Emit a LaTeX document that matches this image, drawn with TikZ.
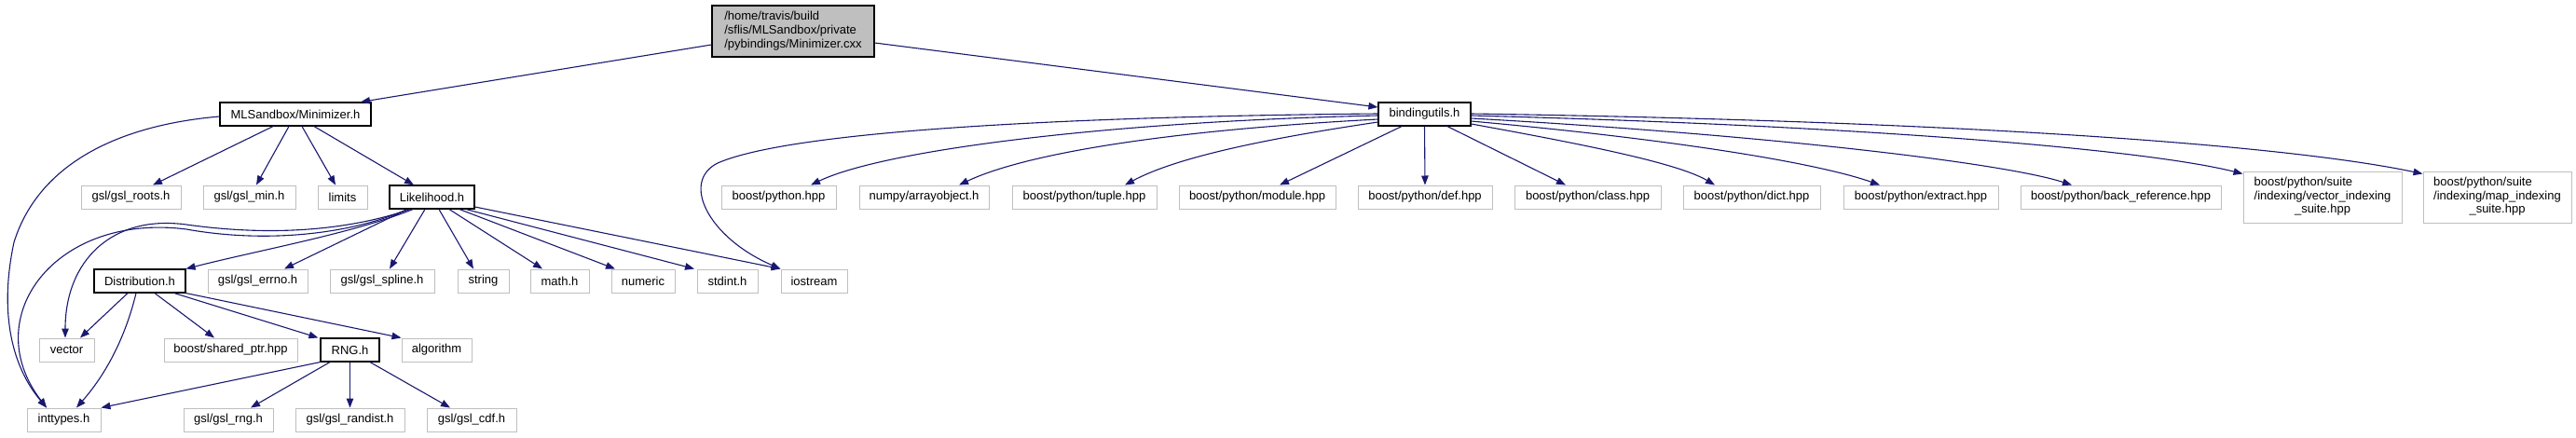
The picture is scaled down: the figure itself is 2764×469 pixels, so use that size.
\documentclass[tikz,border=0pt]{standalone}
\usepackage{fontspec}
\setmainfont{Liberation Sans}
\usetikzlibrary{arrows.meta}
\definecolor{edgeblue}{RGB}{25,25,112}
\definecolor{boxgrey}{RGB}{191,191,191}
\tikzset{
  box/.style={draw=boxgrey, line width=1pt, minimum height=25pt, inner sep=0pt, font=\fontsize{13}{14.5}\selectfont, text=black},
  docbox/.style={box, draw=black, line width=1.15pt},
  edge/.style={draw=edgeblue, line width=1.1pt, -{Triangle[length=10pt,width=7.5pt]}}
}
\begin{document}
\begin{tikzpicture}[x=1pt,y=-1pt]
\useasboundingbox (0,0) rectangle (2764,469);
% row 0
\node[docbox, fill=boxgrey, minimum width=174pt, minimum height=55pt, font=\fontsize{13}{15}\selectfont] (root) at (851,33.5)
  {\begin{tabular}{@{}l@{}}/home/travis/build\\/sflis/MLSandbox/private\\/pybindings/Minimizer.cxx\end{tabular}};
% row 1
\node[docbox, minimum width=162pt] (mls) at (317,122.5) {MLSandbox/Minimizer.h};
\node[docbox, minimum width=99pt] (bu) at (1528.5,122.5) {bindingutils.h};
% row 2
\node[box, minimum width=107pt] (roots) at (140.5,211.5) {gsl/gsl\_roots.h};
\node[box, minimum width=99pt] (gslmin) at (267.5,211.5) {gsl/gsl\_min.h};
\node[box, minimum width=53pt] (limits) at (367.5,211.5) {limits};
\node[docbox, minimum width=91pt] (lik) at (463.5,211.5) {Likelihood.h};
\node[box, minimum width=123pt] (pyhpp) at (835.5,211.5) {boost/python.hpp};
\node[box, minimum width=139pt] (numpy) at (991.5,211.5) {numpy/arrayobject.h};
\node[box, minimum width=155pt] (tuple) at (1163.5,211.5) {boost/python/tuple.hpp};
\node[box, minimum width=168pt] (module) at (1349,211.5) {boost/python/module.hpp};
\node[box, minimum width=144pt] (def) at (1529,211.5) {boost/python/def.hpp};
\node[box, minimum width=157pt] (class) at (1703.5,211.5) {boost/python/class.hpp};
\node[box, minimum width=147pt] (dict) at (1879.5,211.5) {boost/python/dict.hpp};
\node[box, minimum width=166pt] (extract) at (2061,211.5) {boost/python/extract.hpp};
\node[box, minimum width=215pt] (backref) at (2275.5,211.5) {boost/python/back\_reference.hpp};
\node[box, minimum width=170pt, minimum height=55pt] (vidx) at (2492,211.5)
  {\begin{tabular}{@{}l@{}}boost/python/suite\\/indexing/vector\_indexing\\\multicolumn{1}{@{}c@{}}{\_suite.hpp}\end{tabular}};
\node[box, minimum width=159pt, minimum height=55pt] (midx) at (2679.5,211.5)
  {\begin{tabular}{@{}l@{}}boost/python/suite\\/indexing/map\_indexing\\\multicolumn{1}{@{}c@{}}{\_suite.hpp}\end{tabular}};
% row 3
\node[docbox, minimum width=98pt] (distr) at (150,301.5) {Distribution.h};
\node[box, minimum width=107pt] (errno) at (276.5,301.5) {gsl/gsl\_errno.h};
\node[box, minimum width=112pt] (spline) at (410,301.5) {gsl/gsl\_spline.h};
\node[box, minimum width=55pt] (string) at (518.5,301.5) {string};
\node[box, minimum width=63pt] (math) at (600.5,301.5) {math.h};
\node[box, minimum width=68pt] (numeric) at (690,301.5) {numeric};
\node[box, minimum width=65pt] (stdint) at (780.5,301.5) {stdint.h};
\node[box, minimum width=71pt] (ios) at (873.5,301.5) {iostream};
% row 4
\node[box, minimum width=59pt] (vector) at (71.5,375.5) {vector};
\node[box, minimum width=143pt] (shptr) at (247.5,375.5) {boost/shared\_ptr.hpp};
\node[docbox, minimum width=63pt] (rng) at (375.5,375.5) {RNG.h};
\node[box, minimum width=75pt] (alg) at (468.5,375.5) {algorithm};
% row 5
\node[box, minimum width=79pt] (inttypes) at (68.5,450.5) {inttypes.h};
\node[box, minimum width=96pt] (gslrng) at (245,450.5) {gsl/gsl\_rng.h};
\node[box, minimum width=117pt] (randist) at (375.5,450.5) {gsl/gsl\_randist.h};
\node[box, minimum width=96pt] (cdf) at (506,450.5) {gsl/gsl\_cdf.h};

% root edges
\draw[edge] ([yshift=-14.5pt]root.west) -- ([xshift=70pt]mls.north);
\draw[edge] ([yshift=-12.5pt]root.east) -- ([yshift=7.5pt]bu.west);

% MLSandbox edges
\draw[edge] ([xshift=-24pt]mls.south) -- ([xshift=23.5pt]roots.north);
\draw[edge] ([xshift=-7pt]mls.south) -- ([xshift=7.5pt]gslmin.north);
\draw[edge] ([xshift=7pt]mls.south) -- ([xshift=-7.5pt]limits.north);
\draw[edge] ([xshift=20pt]mls.south) -- ([xshift=-19.5pt]lik.north);
\draw[edge] ([yshift=-2.5pt]mls.west) .. controls (120,135) and (40,180) .. (15,260)
  .. controls (0,330) and (10,390) .. ([xshift=-18.5pt]inttypes.north);

% Likelihood edges
\draw[edge] ([xshift=-20.5pt]lik.south) .. controls (380,250) and (280,268) .. (distr.north east);
\draw[edge] ([xshift=-26.5pt]lik.south) -- ([xshift=28.5pt]errno.north);
\draw[edge] ([xshift=-23.5pt]lik.south) .. controls (380,245) and (300,255) .. (200,241)
  .. controls (120,230) and (70,280) .. ([xshift=-1.5pt]vector.north);
\draw[edge] ([xshift=-26.5pt]lik.south) .. controls (380,250) and (290,262) .. (200,246)
  .. controls (60,228) and (-25,340) .. ([xshift=-18.5pt]inttypes.north);
\draw[edge] ([xshift=-7.5pt]lik.south) -- ([xshift=8pt]spline.north);
\draw[edge] ([xshift=7.5pt]lik.south) -- ([xshift=-10.5pt]string.north);
\draw[edge] ([xshift=18.5pt]lik.south) -- ([xshift=-18.5pt]math.north);
\draw[edge] ([xshift=29.5pt]lik.south) -- ([xshift=-30pt]numeric.north);
\draw[edge] ([xshift=36.5pt]lik.south) -- ([xshift=-35.5pt]stdint.north);
\draw[edge] ([yshift=-10.5pt]lik.east) -- (ios.north west);

% Distribution edges
\draw[edge] ([xshift=-13pt]distr.south) -- ([xshift=14.5pt]vector.north);
\draw[edge] ([xshift=-4pt]distr.south) .. controls (135,360) and (115,400) .. ([xshift=13.5pt]inttypes.north);
\draw[edge] ([xshift=16pt]distr.south) -- ([xshift=-17.5pt]shptr.north);
\draw[edge] ([xshift=37pt]distr.south) -- ([xshift=-2pt]rng.north west);
\draw[edge] (distr.south east) -- (alg.north west);

% RNG edges
\draw[edge] (rng.south west) -- (inttypes.north east);
\draw[edge] ([xshift=-21.5pt]rng.south) -- ([xshift=24pt]gslrng.north);
\draw[edge] (rng.south) -- (randist.north);
\draw[edge] ([xshift=21.5pt]rng.south) -- ([xshift=-23pt]cdf.north);

% bindingutils edges
\draw[edge] ([yshift=0.5pt]bu.west) .. controls (1150,125) and (850,140) .. (770,175)
  .. controls (730,195) and (760,255) .. (ios.north west);
\draw[edge] ([yshift=-1.5pt]bu.west) .. controls (1200,130) and (950,160) .. ([xshift=34.5pt]pyhpp.north);
\draw[edge] ([yshift=-5.5pt]bu.west) .. controls (1250,140) and (1100,165) .. ([xshift=37.5pt]numpy.north);
\draw[edge] ([yshift=-8.5pt]bu.west) .. controls (1350,150) and (1260,170) .. ([xshift=43.5pt]tuple.north);
\draw[edge] ([xshift=-24.5pt]bu.south) -- ([xshift=24pt]module.north);
\draw[edge] (bu.south) -- (def.north);
\draw[edge] ([xshift=24.5pt]bu.south) -- ([xshift=-23.5pt]class.north);
\draw[edge] ([yshift=-10.5pt]bu.east) .. controls (1700,155) and (1800,175) .. ([xshift=-39.5pt]dict.north);
\draw[edge] ([yshift=-7.5pt]bu.east) .. controls (1800,150) and (1950,175) .. ([xshift=-44pt]extract.north);
\draw[edge] ([yshift=-4.5pt]bu.east) .. controls (1900,145) and (2150,175) .. ([xshift=-52.5pt]backref.north);
\draw[edge] ([yshift=-1.5pt]bu.east) .. controls (2000,135) and (2300,160) .. ([yshift=-3pt]vidx.north west);
\draw[edge] ([yshift=0.5pt]bu.east) .. controls (2100,130) and (2450,155) .. ([yshift=-3pt]midx.north west);
\end{tikzpicture}
\end{document}
